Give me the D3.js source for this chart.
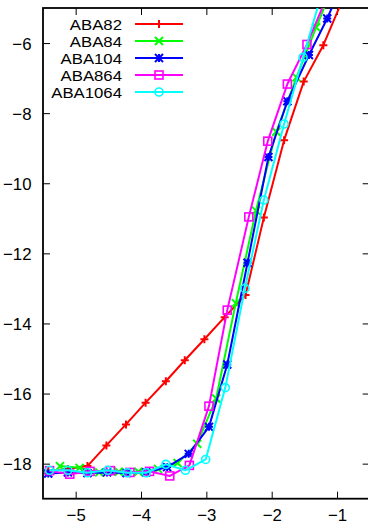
<!DOCTYPE html>
<html>
<head>
<meta charset="utf-8">
<script src="https://cdn.jsdelivr.net/npm/d3@7"></script>
<style>
  html, body { margin: 0; padding: 0; background: #fff; overflow: hidden; }
  svg { display: block; }
  text { font-family: "Liberation Sans", Arial, Helvetica, sans-serif; font-size: 16.8px; fill: #000; }
  .legend text { font-size: 14.7px; }
</style>
</head>
<body>
<svg id="chart" width="368" height="524"></svg>
<script>
// Series data: x positions and y values for each sample set
const aba82X   = [-5.42, -5.12, -4.82, -4.53, -4.23, -3.93, -3.62, -3.33, -3.03, -2.72, -2.40, -2.12, -1.81, -1.51, -1.21, -0.91];
const aba82Y   = [-18.20, -18.15, -18.07, -17.48, -16.88, -16.26, -15.65, -15.05, -14.45, -13.82, -13.19, -10.98, -8.77, -7.10, -6.06, -4.74];

const aba84X   = [-5.24, -4.94, -4.64, -4.34, -4.04, -3.74, -3.44, -3.14, -2.85, -2.55, -2.24, -1.93, -1.62, -1.32, -1.02];
const aba84Y   = [-18.07, -18.12, -18.25, -18.23, -18.23, -18.15, -17.98, -17.43, -16.14, -13.42, -10.78, -8.53, -6.98, -5.55, -4.20];

const aba104X  = [-5.42, -5.12, -4.82, -4.52, -4.22, -3.92, -3.60, -3.27, -2.96, -2.68, -2.37, -2.05, -1.76, -1.43, -1.15, -0.85];
const aba104Y  = [-18.28, -18.25, -18.27, -18.25, -18.27, -18.25, -18.10, -17.72, -16.95, -15.17, -12.27, -9.25, -7.66, -6.34, -5.30, -4.00];

const aba864X  = [-5.40, -5.09, -4.78, -4.47, -4.17, -3.87, -3.56, -3.26, -2.96, -2.68, -2.35, -2.06, -1.76, -1.46, -1.16];
const aba864Y  = [-18.20, -18.30, -18.22, -18.20, -18.25, -18.22, -18.35, -18.05, -16.36, -13.62, -10.96, -8.80, -7.17, -6.04, -4.70];

const aba1064X = [-5.40, -5.12, -4.82, -4.51, -4.21, -3.92, -3.62, -3.32, -3.01, -2.71, -2.41, -2.12, -1.81, -1.52, -1.22];
const aba1064Y = [-18.19, -18.19, -18.26, -18.19, -18.26, -18.26, -18.02, -18.19, -17.88, -15.83, -13.00, -10.48, -8.31, -6.41, -4.50];

const seriesNames  = ["ABA82", "ABA84", "ABA104", "ABA864", "ABA1064"];
const seriesColors = ["#ff0000", "#00ff00", "#0000ff", "#ff00ff", "#00ffff"];
const seriesMarks  = ["plus", "cross", "star", "square", "circle"];

const xTicks = [-5, -4, -3, -2, -1];
const yTicks = [-18, -16, -14, -12, -10, -8, -6];
const xDomain = [-5.5, -0.5];
const yDomain = [-19, -5];

const series = [
  { xs: aba82X,   ys: aba82Y },
  { xs: aba84X,   ys: aba84Y },
  { xs: aba104X,  ys: aba104Y },
  { xs: aba864X,  ys: aba864Y },
  { xs: aba1064X, ys: aba1064Y }
].map((s, i) => ({
  name: seriesNames[i], color: seriesColors[i], mark: seriesMarks[i],
  points: s.xs.map((x, j) => ({ x, y: s.ys[j] }))
}));

const svg = d3.select("#chart");
const plot = { left: 43, right: 369.7, top: 8, bottom: 498.7 };

const x = d3.scaleLinear().domain(xDomain).range([plot.left, plot.right]);
const y = d3.scaleLinear().domain(yDomain).range([plot.bottom, plot.top]);

svg.append("defs").append("clipPath").attr("id", "plotClip")
  .append("rect")
  .attr("x", plot.left).attr("y", plot.top)
  .attr("width", plot.right - plot.left).attr("height", plot.bottom - plot.top);

// Axes with inward ticks, mirrored on top and right
const tickLen = 7;
const axisBottom = d3.axisBottom(x).tickValues(xTicks).tickSizeInner(-tickLen).tickSizeOuter(0)
  .tickFormat(d3.format("d"));
const axisTop = d3.axisTop(x).tickValues(xTicks).tickSizeInner(-tickLen).tickSizeOuter(0).tickFormat("");
const axisLeft = d3.axisLeft(y).tickValues(yTicks).tickSizeInner(-tickLen).tickSizeOuter(0)
  .tickFormat(d3.format("d"));
const axisRight = d3.axisRight(y).tickValues(yTicks).tickSizeInner(-tickLen).tickSizeOuter(0).tickFormat("");

function styleAxis(g) {
  g.select(".domain").remove();
  g.selectAll(".tick line").attr("stroke", "#000").attr("stroke-width", 1);
  g.selectAll(".tick text").attr("font-size", null).attr("font-family", null).attr("fill", "#000");
}

const gx = svg.append("g").attr("transform", `translate(0,${plot.bottom})`).call(axisBottom).call(styleAxis);
gx.selectAll(".tick text").attr("dy", null).attr("y", 22.5);
svg.append("g").attr("transform", `translate(0,${plot.top})`).call(axisTop).call(styleAxis);
const gy = svg.append("g").attr("transform", `translate(${plot.left},0)`).call(axisLeft).call(styleAxis);
gy.selectAll(".tick text").attr("dy", "0.36em").attr("x", -11.5);
svg.append("g").attr("transform", `translate(${plot.right},0)`).call(axisRight).call(styleAxis);

// Plot border
svg.append("rect")
  .attr("x", plot.left).attr("y", plot.top)
  .attr("width", plot.right - plot.left).attr("height", plot.bottom - plot.top)
  .attr("fill", "none").attr("stroke", "#000").attr("stroke-width", 1.8);

// Marker drawing
function drawMark(g, type, cx, cy, color) {
  const r = 4;
  const sw = 1.6;
  if (type === "plus") {
    g.append("path").attr("d", `M${cx - r},${cy}H${cx + r}M${cx},${cy - r}V${cy + r}`)
      .attr("stroke", color).attr("stroke-width", sw + 0.4).attr("fill", "none");
  } else if (type === "cross") {
    g.append("path").attr("d", `M${cx - r},${cy - r}L${cx + r},${cy + r}M${cx - r},${cy + r}L${cx + r},${cy - r}`)
      .attr("stroke", color).attr("stroke-width", sw + 0.4).attr("fill", "none");
  } else if (type === "star") {
    g.append("path").attr("d",
      `M${cx - r},${cy}H${cx + r}M${cx},${cy - r}V${cy + r}` +
      `M${cx - r},${cy - r}L${cx + r},${cy + r}M${cx - r},${cy + r}L${cx + r},${cy - r}`)
      .attr("stroke", color).attr("stroke-width", sw + 0.4).attr("fill", "none");
  } else if (type === "square") {
    g.append("rect").attr("x", cx - r).attr("y", cy - r).attr("width", 2 * r).attr("height", 2 * r)
      .attr("stroke", color).attr("stroke-width", sw).attr("fill", "none");
  } else if (type === "circle") {
    g.append("circle").attr("cx", cx).attr("cy", cy).attr("r", r)
      .attr("stroke", color).attr("stroke-width", sw).attr("fill", "none");
  }
}

const line = d3.line().x(d => x(d.x)).y(d => y(d.y));
const dataLayer = svg.append("g").attr("clip-path", "url(#plotClip)");

series.forEach(s => {
  const g = dataLayer.append("g");
  g.append("path").datum(s.points).attr("d", line)
    .attr("fill", "none").attr("stroke", s.color).attr("stroke-width", 2)
    .attr("stroke-linejoin", "round");
  s.points.forEach(p => drawMark(g, s.mark, x(p.x), y(p.y), s.color));
});

// Legend: labels are set slightly wide so the tight row pitch stays clear
const legend = svg.append("g").attr("class", "legend");
series.forEach((s, i) => {
  const by = 29.5 + i * 17;
  const cy = by - 5.5;
  legend.append("text")
    .attr("transform", `translate(122,${by}) scale(1.14,1)`)
    .attr("text-anchor", "end").text(s.name);
  legend.append("line").attr("x1", 135).attr("x2", 183).attr("y1", cy).attr("y2", cy)
    .attr("stroke", s.color).attr("stroke-width", 2);
  drawMark(legend, s.mark, 159, cy, s.color);
});
</script>
</body>
</html>
